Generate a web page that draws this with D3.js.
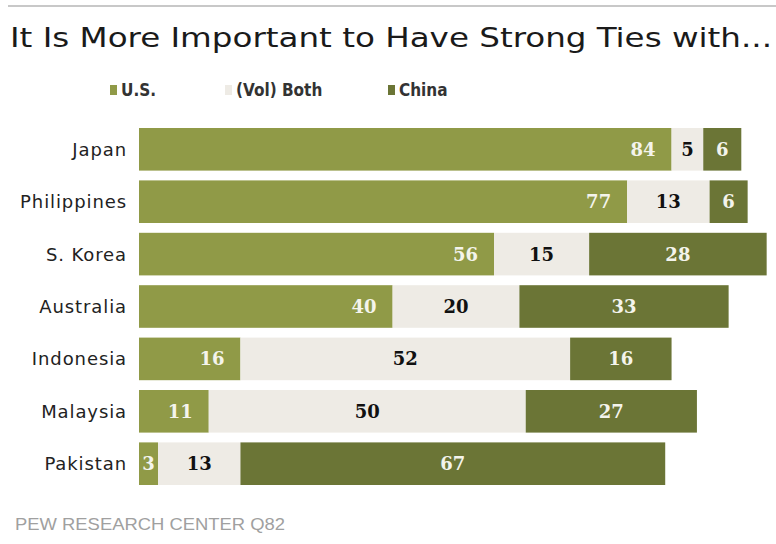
<!DOCTYPE html>
<html lang="en">
<head>
<meta charset="UTF-8">
<title>Strong Ties</title>
<script src="https://d3js.org/d3.v7.min.js"></script>
<style>
    body { margin: 0; background: #fff; }
    .country { font: 18px "DejaVu Sans", sans-serif; letter-spacing: 0.9px; fill: #222; }
    .val { font: bold 18px "DejaVu Serif", serif; }
    .legend text { font: bold 17px "DejaVu Sans Condensed", "Liberation Sans", sans-serif; fill: #333; }
</style>
</head>
<body>
<div id="chart"></div>
<script>
var countries = ["Japan", "Philippines", "S. Korea", "Australia", "Indonesia", "Malaysia", "Pakistan"];
var usVals    = [84, 77, 56, 40, 16, 11, 3];
var bothVals  = [5, 13, 15, 20, 52, 50, 13];
var chinaVals = [6, 6, 28, 33, 16, 27, 67];
var seriesNames = ["U.S.", "(Vol) Both", "China"];

var colors = ["#909a47", "#eeebe5", "#6b7536"];
var labelColors = ["#f4f4ec", "#111", "#f4f4ec"];

var width = 776, height = 544;

var svg = d3.select("#chart").append("svg")
    .attr("width", width)
    .attr("height", height);

// top rule
svg.append("line")
    .attr("x1", 8).attr("x2", width)
    .attr("y1", 6).attr("y2", 6)
    .attr("stroke", "#c8c8c8")
    .attr("stroke-width", 2);

// title
svg.append("text")
    .attr("x", 10).attr("y", 47)
    .attr("textLength", 762)
    .attr("lengthAdjust", "spacingAndGlyphs")
    .style("font", "27px 'DejaVu Sans Condensed', 'DejaVu Sans', sans-serif")
    .style("fill", "#1a1a1a")
    .text("It Is More Important to Have Strong Ties with...");

// legend
var legendX = [110, 225, 388];
var legend = svg.selectAll("g.legend")
    .data(seriesNames)
    .enter().append("g")
    .attr("class", "legend")
    .attr("transform", function(d, i) { return "translate(" + legendX[i] + ",0)"; });

legend.append("rect")
    .attr("y", 85).attr("width", 7).attr("height", 10)
    .attr("fill", function(d, i) { return colors[i]; });

legend.append("text")
    .attr("x", 11).attr("y", 96)
    .text(function(d) { return d; });

// scales
var x = d3.scaleLinear().domain([0, 100]).range([139, 139 + 634]);
var y = d3.scaleBand().domain(countries).range([128, 485]).paddingInner(0.187);

// stack the three series
var rows = countries.map(function(c, i) {
    return { country: c, us: usVals[i], both: bothVals[i], china: chinaVals[i] };
});
var stack = d3.stack().keys(["us", "both", "china"]);
var layers = stack(rows);

var groups = svg.selectAll("g.layer")
    .data(layers)
    .enter().append("g")
    .attr("class", "layer")
    .attr("fill", function(d, i) { return colors[i]; });

groups.selectAll("rect")
    .data(function(d) { return d; })
    .enter().append("rect")
    .attr("x", function(d) { return x(d[0]); })
    .attr("y", function(d) { return y(d.data.country); })
    .attr("width", function(d) { return x(d[1]) - x(d[0]); })
    .attr("height", y.bandwidth());

// value labels
layers.forEach(function(layer, li) {
    svg.selectAll("text.v" + li)
        .data(layer)
        .enter().append("text")
        .attr("class", "val v" + li)
        .attr("fill", labelColors[li])
        .attr("dy", "0.36em")
        .attr("y", function(d) { return y(d.data.country) + y.bandwidth() / 2; })
        .attr("x", function(d) {
            var w = x(d[1]) - x(d[0]);
            if (li == 0 && w > 40) return x(d[1]) - 16;
            return (x(d[0]) + x(d[1])) / 2;
        })
        .attr("text-anchor", function(d) {
            var w = x(d[1]) - x(d[0]);
            return (li == 0 && w > 40) ? "end" : "middle";
        })
        .text(function(d) { return d[1] - d[0]; });
});

// country labels
svg.selectAll("text.country")
    .data(countries)
    .enter().append("text")
    .attr("class", "country")
    .attr("x", 127)
    .attr("y", function(d) { return y(d) + y.bandwidth() / 2; })
    .attr("dy", "0.36em")
    .attr("text-anchor", "end")
    .text(function(d) { return d; });

// source
svg.append("text")
    .attr("x", 15).attr("y", 530)
    .attr("textLength", 270)
    .attr("lengthAdjust", "spacingAndGlyphs")
    .style("font", "17px 'Liberation Sans', sans-serif")
    .style("fill", "#a0a0a0")
    .text("PEW RESEARCH CENTER Q82");
</script>
</body>
</html>
